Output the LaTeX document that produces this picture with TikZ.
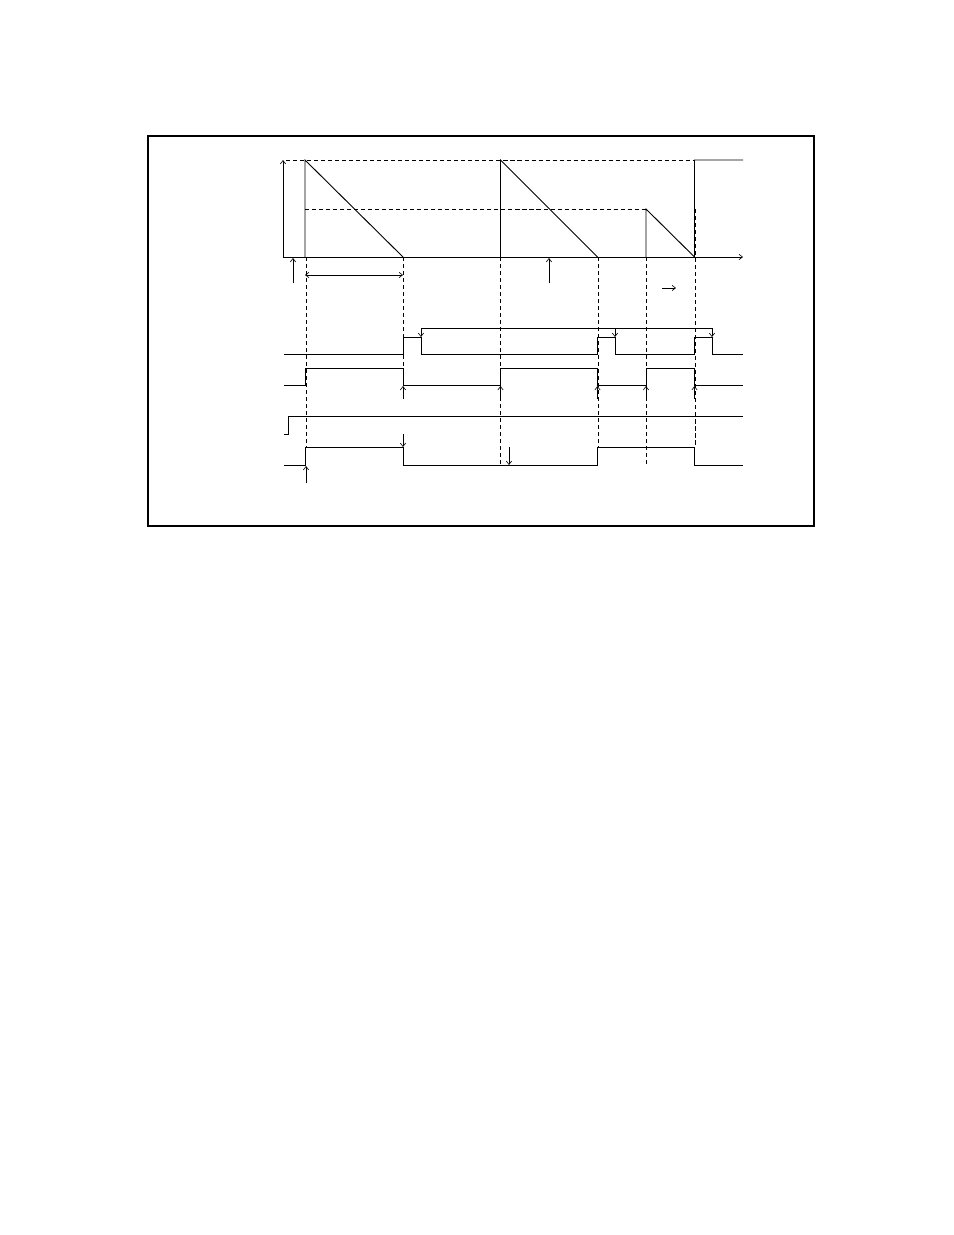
\documentclass[tikz,border=0pt]{standalone}
\usetikzlibrary{arrows.meta}
\begin{document}
\begin{tikzpicture}[x=0.6415pt,y=-0.6415pt, line width=0.6pt,
  tipA/.style={-{Straight Barb[length=2.2pt,width=3.4pt,line width=0.4pt]}},
  tipB/.style={{Straight Barb[length=2.2pt,width=3.4pt,line width=0.4pt]}-{Straight Barb[length=2.2pt,width=3.4pt,line width=0.4pt]}},
  dsh/.style={dash pattern=on 2.6pt off 1.9pt, line width=0.6pt}]
\useasboundingbox (0,0) rectangle (954,1235);
\draw[line width=0.7pt] (148,136) rectangle (814,526);
% axes
\draw[tipA] (283,257) -- (283,160);
\draw[tipA] (283,257) -- (743,257);
% dashed levels
\draw[dsh] (286,160) -- (694,160);
\draw[dsh] (305,209) -- (646,209);
% sawtooth
\draw (305,257) -- (305,160) -- (403,257);
\draw (500.5,257) -- (500.5,160) -- (597.5,257);
\draw (646,257) -- (646,209) -- (694.5,257) -- (694.5,160) -- (743,160);
% dashed verticals
\draw[dsh] (306,257) -- (306,447);
\draw[dsh] (403.5,257) -- (403.5,385);
\draw[dsh] (500.8,257) -- (500.8,465);
\draw[dsh] (598.3,257) -- (598.3,447);
\draw[dsh] (646.5,257) -- (646.5,465);
\draw[dsh] (695.5,209) -- (695.5,447);
% small arrows
\draw[tipA] (293,283) -- (293,258);
\draw[tipA] (549,283) -- (549,258);
\draw[tipB] (305,275) -- (403,275);
\draw[tipA] (662,288) -- (676,288);
% row 1
\draw (284,354) -- (403,354) -- (403,337) -- (421,337) -- (421,354) -- (597.5,354) -- (597.5,337) -- (615,337) -- (615,354) -- (694.5,354) -- (694.5,337) -- (712,337) -- (712,354) -- (743,354);
\draw (421,328) -- (712,328);
\draw[tipA] (421,328) -- (421,337);
\draw[tipA] (615,328) -- (615,337);
\draw[tipA] (712,328) -- (712,337);
% row 2
\draw (284,385) -- (305,385) -- (305,368) -- (403,368) -- (403,385) -- (500.5,385) -- (500.5,368) -- (597.5,368) -- (597.5,385) -- (646,385) -- (646,368) -- (694.5,368) -- (694.5,385) -- (743,385);
\foreach \x in {403,500.5,597.5,646,694.5} \draw[tipA] (\x,399) -- (\x,386);
% row 3
\draw (284,434) -- (288,434) -- (288,416) -- (743,416);
% row 4
\draw (284,465) -- (305,465) -- (305,447) -- (403,447) -- (403,465) -- (597.5,465) -- (597.5,447) -- (694.5,447) -- (694.5,465) -- (743,465);
\draw[tipA] (306,483) -- (306,466);
\draw[tipA] (403,434) -- (403,447);
\draw[tipA] (509,447) -- (509,465);
\end{tikzpicture}
\end{document}
